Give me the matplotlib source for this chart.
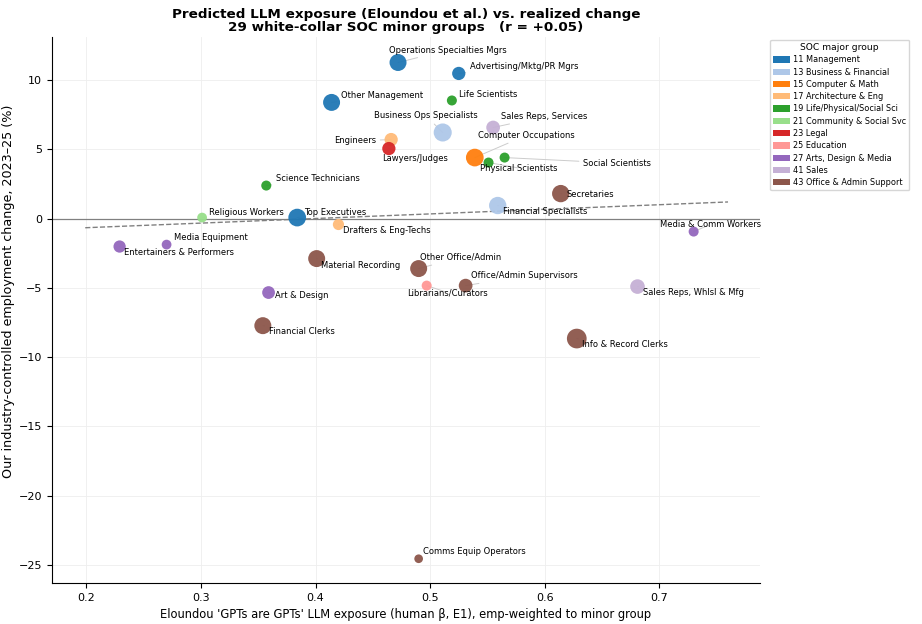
import numpy as np
import matplotlib
matplotlib.use("Agg")
import matplotlib.pyplot as plt
from matplotlib.patches import Patch

# ── Data ──────────────────────────────────────────────────────────────────────
labels = [
    "Operations Specialties Mgrs", "Advertising/Mktg/PR Mgrs", "Other Management",
    "Life Scientists", "Business Ops Specialists", "Sales Reps, Services",
    "Engineers", "Lawyers/Judges", "Computer Occupations", "Physical Scientists",
    "Social Scientists", "Science Technicians", "Secretaries", "Financial Specialists",
    "Religious Workers", "Top Executives", "Drafters & Eng-Techs", "Media & Comm Workers",
    "Media Equipment", "Entertainers & Performers", "Material Recording",
    "Other Office/Admin", "Librarians/Curators", "Office/Admin Supervisors",
    "Sales Reps, Whlsl & Mfg", "Art & Design", "Financial Clerks",
    "Info & Record Clerks", "Comms Equip Operators",
]
major = [
    "11", "11", "11", "19", "13", "41", "17", "23", "15", "19",
    "19", "19", "43", "13", "21", "11", "17", "27", "27", "27",
    "43", "43", "25", "43", "41", "27", "43", "43", "43",
]
exposure = [
    0.472, 0.525, 0.414, 0.519, 0.511, 0.555, 0.466, 0.464, 0.539, 0.551,
    0.565, 0.357, 0.614, 0.559, 0.301, 0.384, 0.420, 0.730, 0.270, 0.229,
    0.401, 0.490, 0.497, 0.531, 0.681, 0.359, 0.354, 0.628, 0.490,
]
emp_change = [
    11.26, 10.47, 8.38, 8.52, 6.21, 6.57, 5.70, 5.05, 4.40, 4.04,
    4.40, 2.38, 1.80, 0.94, 0.07, 0.07, -0.43, -0.94, -1.88, -2.02,
    -2.89, -3.61, -4.84, -4.84, -4.91, -5.34, -7.73, -8.66, -24.55,
]
# relative employment weight (drives bubble size)
emp_weight = [
    115, 70, 115, 40, 130, 75, 70, 70, 125, 40,
    40, 40, 120, 120, 38, 125, 50, 40, 38, 60,
    115, 115, 40, 75, 85, 65, 115, 155, 30,
]

groups = {
    "11": "11 Management",
    "13": "13 Business & Financial",
    "15": "15 Computer & Math",
    "17": "17 Architecture & Eng",
    "19": "19 Life/Physical/Social Sci",
    "21": "21 Community & Social Svc",
    "23": "23 Legal",
    "25": "25 Education",
    "27": "27 Arts, Design & Media",
    "41": "41 Sales",
    "43": "43 Office & Admin Support",
}

# label text offsets from the marker (points): dx, dy (screen, up positive)
label_offsets = {
    "Operations Specialties Mgrs": (36, 9), "Advertising/Mktg/PR Mgrs": (47, 5),
    "Other Management": (36, 5), "Life Scientists": (26, 4),
    "Business Ops Specialists": (-12, 12), "Sales Reps, Services": (37, 8),
    "Engineers": (-26, -1), "Lawyers/Judges": (19, -7),
    "Computer Occupations": (37, 16), "Physical Scientists": (22, -4),
    "Social Scientists": (81, -4), "Science Technicians": (37, 5),
    "Secretaries": (21, -1), "Financial Specialists": (34, -4),
    "Religious Workers": (32, 4), "Top Executives": (27, 4),
    "Drafters & Eng-Techs": (35, -4), "Media & Comm Workers": (12, 5),
    "Media Equipment": (32, 5), "Entertainers & Performers": (43, -4),
    "Material Recording": (32, -5), "Other Office/Admin": (30, 8),
    "Librarians/Curators": (15, -5), "Office/Admin Supervisors": (42, 7),
    "Sales Reps, Whlsl & Mfg": (40, -4), "Art & Design": (24, -2),
    "Financial Clerks": (28, -4), "Info & Record Clerks": (35, -4),
    "Comms Equip Operators": (40, 5),
}

codes = list(groups.keys())
palette = plt.get_cmap("tab20").colors
color_of = {c: palette[i] for i, c in enumerate(codes)}

x = np.array(exposure)
y = np.array(emp_change)
r = np.corrcoef(x, y)[0, 1]
slope, intercept = np.polyfit(x, y, 1)

# ── Plot ──────────────────────────────────────────────────────────────────────
fig = plt.figure(figsize=(9.22, 6.24), dpi=100)
ax = fig.add_axes([0.0564, 0.0657, 0.768, 0.875])

ax.axhline(0, color="grey", linewidth=0.9, zorder=1)
xx = np.linspace(x.min() - 0.03, x.max() + 0.03, 50)
ax.plot(xx, slope * xx + intercept, color="grey", linestyle="--", linewidth=1.0, zorder=1)

ax.scatter(x, y, s=np.array(emp_weight) * 1.3, c=[color_of[m] for m in major],
           alpha=0.95, edgecolors="none", zorder=3)

for lab, xi, yi in zip(labels, x, y):
    dx, dy = label_offsets[lab]
    # leader line sits under the markers; text on top
    ax.annotate(lab, (xi, yi), xytext=(dx, dy), textcoords="offset points",
                ha="center", va="center", fontsize=6.0, color="none", zorder=2,
                arrowprops=dict(arrowstyle="-", color="#cccccc", lw=0.7,
                                shrinkA=1, shrinkB=0))
    ax.annotate(lab, (xi, yi), xytext=(dx, dy), textcoords="offset points",
                ha="center", va="center", fontsize=6.0, zorder=4)

ax.set_xlim(0.17, 0.788)
ax.set_ylim(-26.3, 13.1)
ax.set_xticks([0.2, 0.3, 0.4, 0.5, 0.6, 0.7])
ax.set_yticks([-25, -20, -15, -10, -5, 0, 5, 10])
ax.tick_params(labelsize=8)
ax.grid(True, color="#eeeeee", linewidth=0.6, zorder=0)
ax.set_axisbelow(True)
for side in ("top", "right"):
    ax.spines[side].set_visible(False)

ax.set_xlabel("Eloundou 'GPTs are GPTs' LLM exposure (human \u03b2, E1), emp-weighted to minor group",
              fontsize=8.3)
ax.set_ylabel("Our industry-controlled employment change, 2023\u201325 (%)", fontsize=9.2)
ax.yaxis.set_label_coords(-0.052, 0.535)
ax.set_title("Predicted LLM exposure (Eloundou et al.) vs. realized change\n"
             f"29 white-collar SOC minor groups   (r = {r:+.2f})",
             fontsize=9.7, fontweight="bold", pad=4, linespacing=1.05)

handles = [Patch(facecolor=color_of[c], label=groups[c]) for c in codes]
ax.legend(handles=handles, title="SOC major group", loc="upper left",
          bbox_to_anchor=(1.014, 0.995), fontsize=5.9, title_fontsize=6.6,
          handlelength=2.0, handleheight=0.8, labelspacing=0.4, borderaxespad=0,
          handletextpad=0.4)

fig.savefig("out.png", dpi=100)
